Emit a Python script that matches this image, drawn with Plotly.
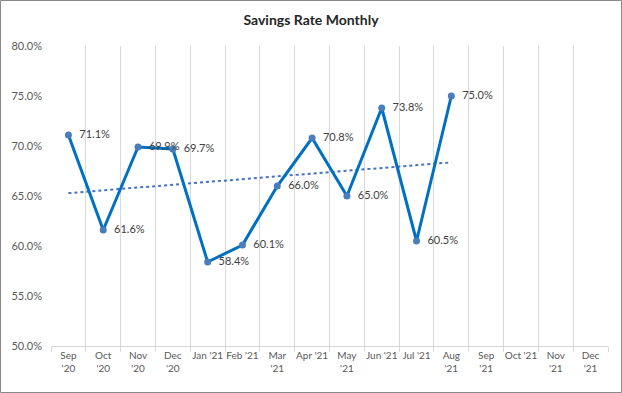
import plotly.graph_objects as go
import numpy as np

months = ["Sep<br>'20", "Oct<br>'20", "Nov<br>'20", "Dec<br>'20", "Jan '21", "Feb '21",
          "Mar<br>'21", "Apr '21", "May<br>'21", "Jun '21", "Jul '21", "Aug<br>'21",
          "Sep<br>'21", "Oct '21", "Nov<br>'21", "Dec<br>'21"]
savings_rate = [71.1, 61.6, 69.9, 69.7, 58.4, 60.1, 66.0, 70.8, 65.0, 73.8, 60.5, 75.0]
y_ticks = [50, 55, 60, 65, 70, 75, 80]

W, H = 622, 393
ML, MR, MT, MB = 51, 14, 46, 47
PW, PH = W - ML - MR, H - MT - MB

obs_months = months[:len(savings_rate)]
idx = np.arange(len(savings_rate))
slope, intercept = np.polyfit(idx, savings_rate, 1)
trend = list(slope * idx + intercept)

fig = go.Figure()
fig.add_trace(go.Scatter(
    x=obs_months, y=trend, mode="lines",
    line=dict(color="#4472C4", width=2, dash="dot"),
    hoverinfo="skip", showlegend=False))
fig.add_trace(go.Scatter(
    x=obs_months, y=savings_rate, mode="lines+markers+text",
    line=dict(color="#0070C0", width=3),
    marker=dict(color="#4A7EBB", size=7),
    text=[f"\u2002{v:.1f}%" for v in savings_rate],
    textposition="middle right",
    textfont=dict(family="Lato", size=11, color="#404040"),
    showlegend=False))

fig.update_layout(
    width=W, height=H,
    margin=dict(l=ML, r=MR, t=MT, b=MB),
    paper_bgcolor="white", plot_bgcolor="white",
    font=dict(family="Lato", size=10, color="#595959"),
    title=dict(text="<b>Savings Rate Monthly</b>", x=0.5, xref="container",
               y=1 - 20 / H, yref="container", yanchor="middle",
               font=dict(family="Lato", size=14, color="#262626")),
    xaxis=dict(type="category", categoryorder="array", categoryarray=months,
               range=[-0.5, len(months) - 0.5], tickson="boundaries",
               showgrid=True, gridcolor="#D9D9D9", gridwidth=1,
               showline=True, linecolor="#D9D9D9", linewidth=1,
               ticks="outside", ticklen=5, tickcolor="#D9D9D9",
               tickangle=0, automargin=False,
               tickfont=dict(family="Lato", size=10, color="#595959"),
               zeroline=False, fixedrange=True),
    yaxis=dict(range=[50, 80], tickvals=y_ticks,
               ticktext=[f"{v:.1f}%" for v in y_ticks],
               showgrid=False, showline=False, zeroline=False,
               ticks="", ticklabelstandoff=8, automargin=False,
               tickfont=dict(family="Lato", size=11, color="#595959")),
    shapes=[dict(type="rect", xref="paper", yref="paper",
                 x0=-(ML - 0.5) / PW, x1=1 + (MR - 0.5) / PW,
                 y0=-(MB - 0.5) / PH, y1=1 + (MT - 0.5) / PH,
                 line=dict(color="#898989", width=1), layer="below")],
)

fig.write_html("out.html", config={"displayModeBar": False},
               post_script="document.body.style.margin='0';document.body.style.overflow='hidden';")
